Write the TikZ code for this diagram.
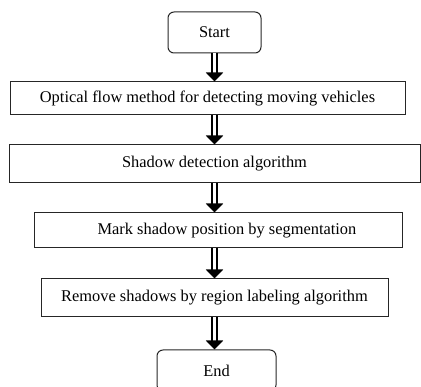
\documentclass[tikz,border=0pt]{standalone}
\usepackage{fontspec}
\setmainfont{Liberation Serif}
\usetikzlibrary{arrows.meta}

\begin{document}
\begin{tikzpicture}[x=1pt, y=-1pt, style={
      line width = 1pt
   }]
   \tikzset{
      stepbox/.style={draw=black!85, rectangle, font=\fontsize{16.4}{19}\selectfont},
      endbox/.style={stepbox, rounded corners=6pt},
      flow/.style={line width=2pt, double distance=3pt,
         -{Triangle[width=17pt, length=9pt]}}
   }
   \useasboundingbox (0,0) rectangle (421,387);

   \node[name=start, endbox, minimum width=93pt, minimum height=41pt] at (214.5,32.5) {Start};
   \node[name=optical, stepbox, minimum width=395pt, minimum height=33pt] at (207.5,98.5)
      {Optical flow method for detecting moving vehicles};
   \node[name=detect, stepbox, minimum width=411pt, minimum height=38pt] at (214.5,164)
      {Shadow detection algorithm};
   \node[name=mark, stepbox, minimum width=368pt, minimum height=35pt] at (218,230.5)
      {\hspace*{18pt}Mark shadow position by segmentation};
   \node[name=remove, stepbox, minimum width=347pt, minimum height=38pt] at (214.5,298)
      {Remove shadows by region labeling algorithm};
   \node[name=finish, endbox, minimum width=119pt, minimum height=41pt] at (216.5,370.5) {End};

   \draw[flow] (start.south) -- (start.south |- optical.north);
   \draw[flow] (start.south |- optical.south) -- (start.south |- detect.north);
   \draw[flow] (start.south |- detect.south) -- (start.south |- mark.north);
   \draw[flow] (start.south |- mark.south) -- (start.south |- remove.north);
   \draw[flow] (start.south |- remove.south) -- (start.south |- finish.north);

\end{tikzpicture}
\end{document}
